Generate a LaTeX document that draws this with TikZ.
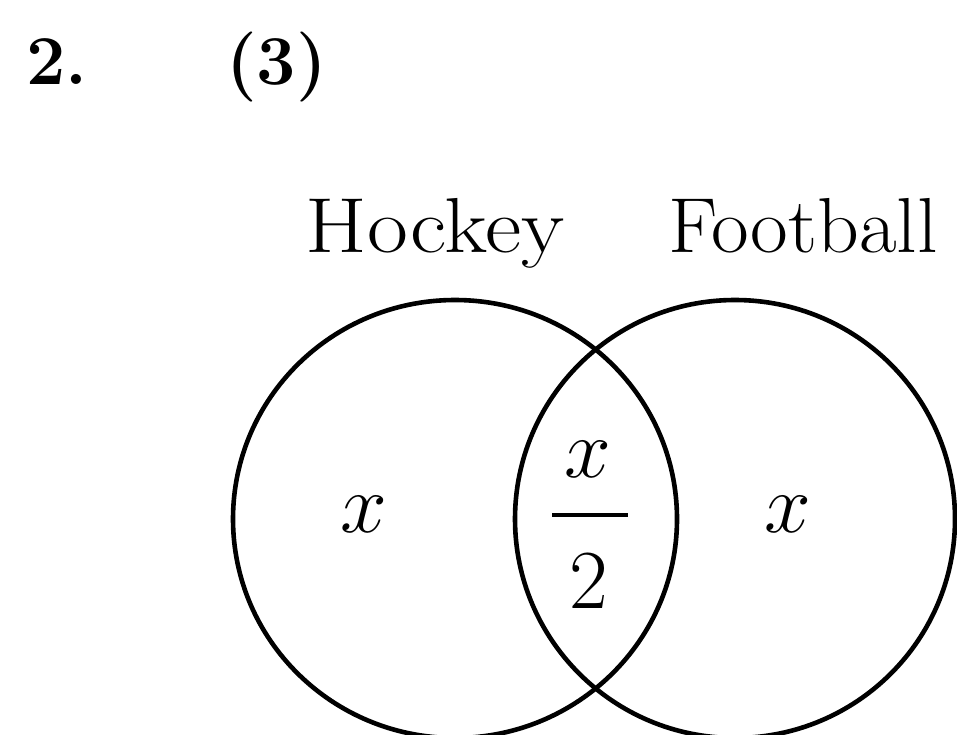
\RequirePackage{fix-cm}
\documentclass[tikz,border=0pt]{standalone}
\usepackage{graphicx}
\begin{document}
\begin{tikzpicture}[x=1pt,y=-1pt,
  ring/.style={draw=black,line width=4.6pt},
  title/.style={inner sep=0pt,font=\fontsize{70}{70}\selectfont\bfseries},
  setlabel/.style={inner sep=0pt,font=\fontsize{78}{78}\selectfont},
  mathlabel/.style={inner sep=0pt,font=\fontsize{84}{84}\selectfont}]
\useasboundingbox (0,0) rectangle (957,735);
\fill[white] (0,0) rectangle (957,735);
% titles
\node[title,anchor=base west] (num) at (26,85) {2.};
\node[title,anchor=base west] (part) at (226,85) {(3)};
% set labels
\node[setlabel,anchor=base] (hockey) at (435,252) {\scalebox{1.14}[1]{Hockey}};
\node[setlabel,anchor=base] (football) at (803,252) {\scalebox{1.05}[1]{Football}};
% circles
\draw[ring] (455,519) ellipse [x radius=222, y radius=219];
\draw[ring] (735,519) ellipse [x radius=220, y radius=219];
% region labels
\node[mathlabel,anchor=base] (left) at (364,532) {$x$};
\node[mathlabel,anchor=base] (right) at (788,532) {$x$};
\node[mathlabel,anchor=base] (numer) at (588,477) {$x$};
\node[mathlabel,anchor=base] (denom) at (589,608) {$2$};
\coordinate (barL) at (552,515);
\coordinate (barR) at (628,515);
\draw[line width=4.5pt] (barL) -- (barR);
\end{tikzpicture}
\end{document}
